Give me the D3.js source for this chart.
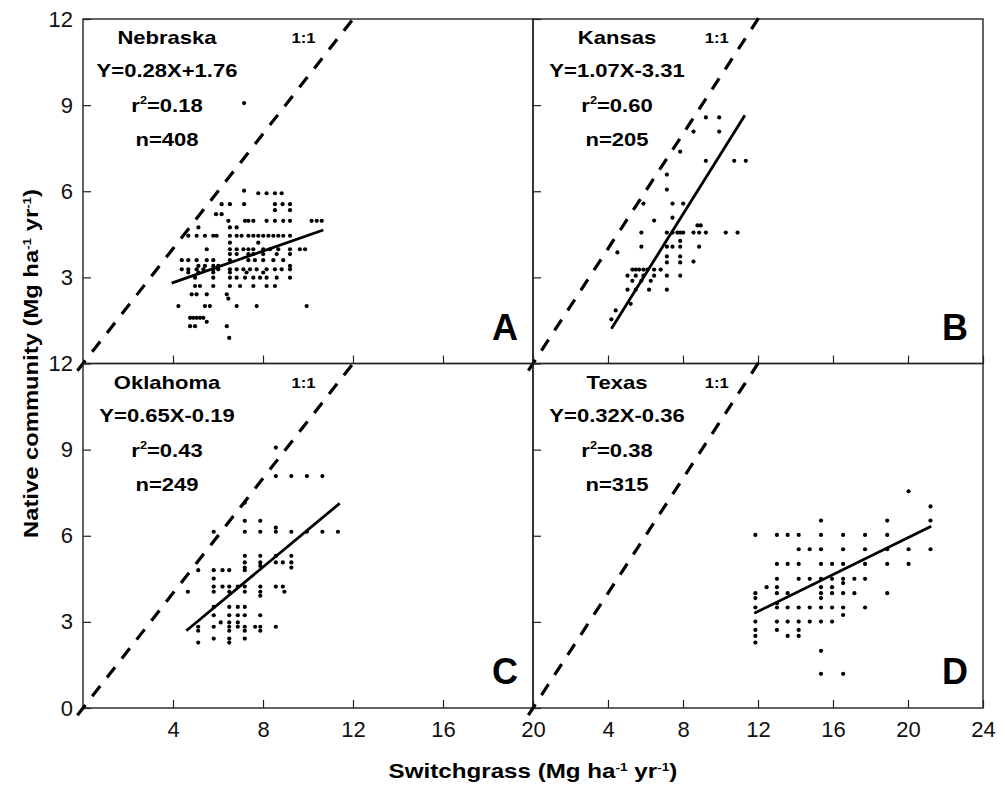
<!DOCTYPE html>
<html>
<head>
<meta charset="utf-8">
<script src="https://cdn.jsdelivr.net/npm/d3@7"></script>
<style>
  body { margin: 0; background: #fff; }
  text { font-family: Arial, "Liberation Sans", sans-serif; }
</style>
</head>
<body>
<svg id="chart"></svg>
<script>
// tick values
const xTicksLeft = [4, 8, 12, 16, 20];
const xTicksRight = [4, 8, 12, 16, 20, 24];
const yTicksTop = [3, 6, 9, 12];
const yTicksBottom = [0, 3, 6, 9, 12];
const oneToOne = [-0.25, 12.15];

// Nebraska (A): [switchgrass, native]
const nebraska = [
  [7.16, 9.07], [7.16, 6.02],
  [7.79, 5.93], [8.16, 5.93], [8.53, 5.93], [8.83, 5.93],
  [6.16, 5.55], [6.53, 5.55], [7.16, 5.55], [8.53, 5.55], [8.87, 5.55], [9.2, 5.55],
  [8.53, 5.34], [9.2, 5.34], [5.91, 5.2], [6.16, 5.2],
  [6.46, 4.97], [7.2, 4.97], [7.35, 4.97], [7.57, 4.97], [8.16, 4.97], [8.53, 4.97], [8.9, 4.97], [9.2, 4.97], [10.16, 4.97], [10.39, 4.97], [10.61, 4.97],
  [5.13, 4.74], [6.53, 4.74], [6.83, 4.74],
  [4.68, 4.45], [5.05, 4.45], [5.42, 4.45], [5.79, 4.45], [5.94, 4.45], [6.53, 4.45], [6.83, 4.45], [7.05, 4.45], [7.35, 4.45], [7.57, 4.45], [7.79, 4.45], [8.01, 4.45], [8.24, 4.45], [8.46, 4.45], [8.68, 4.45], [8.9, 4.45], [9.2, 4.45],
  [6.53, 4.21], [7.79, 4.21],
  [5.5, 3.98], [6.53, 3.98], [6.83, 3.98], [7.13, 3.98], [7.35, 3.98], [7.57, 3.98], [8.01, 3.98], [8.31, 3.98], [8.68, 3.98], [9.2, 3.98], [9.64, 3.98], [9.87, 3.98],
  [6.53, 3.81], [6.83, 3.81], [7.35, 3.81], [7.57, 3.81], [8.01, 3.81], [8.61, 3.81], [9.2, 3.81],
  [4.39, 3.6], [4.68, 3.6], [5.05, 3.6], [5.5, 3.6], [5.79, 3.6], [6.53, 3.6], [7.35, 3.6], [7.64, 3.6], [8.01, 3.6], [8.46, 3.6], [8.9, 3.6],
  [5.13, 3.4], [5.42, 3.4], [5.79, 3.4], [6.01, 3.4], [9.2, 3.4],
  [4.39, 3.28], [4.68, 3.28], [5.05, 3.28], [5.35, 3.28], [5.79, 3.28], [6.01, 3.28], [6.53, 3.28], [6.83, 3.28], [7.13, 3.28], [7.42, 3.28], [7.72, 3.28], [8.16, 3.28], [8.53, 3.28], [8.83, 3.28], [9.2, 3.28],
  [4.68, 3.17], [5.13, 3.17], [5.79, 3.17], [6.53, 3.17], [7.27, 3.17], [8.01, 3.17],
  [4.98, 2.99], [5.79, 2.99], [6.53, 2.99], [6.83, 2.99], [7.2, 2.99], [7.57, 2.99], [7.87, 2.99], [8.16, 2.99], [8.61, 2.99], [9.2, 2.99],
  [4.98, 2.7], [5.2, 2.7], [5.79, 2.7], [6.53, 2.7], [6.98, 2.7], [7.57, 2.7], [8.16, 2.7], [8.53, 2.7],
  [4.83, 2.41], [5.05, 2.41], [5.5, 2.41], [6.39, 2.41], [6.46, 2.26],
  [4.24, 2.0], [5.42, 2.0], [5.64, 2.0], [6.83, 2.0], [7.72, 2.0], [9.94, 2.0],
  [4.76, 1.59], [4.9, 1.59], [5.05, 1.59], [5.2, 1.59], [5.35, 1.59], [5.5, 1.45],
  [4.76, 1.3], [4.98, 1.3], [6.39, 1.3], [6.5, 0.89]
];

// Kansas (B)
const kansas = [
  [9.22, 8.57], [9.93, 8.57], [8.56, 8.08], [9.93, 8.08], [7.85, 7.38],
  [9.22, 7.06], [10.73, 7.06], [11.35, 7.06], [7.14, 6.58], [7.14, 6.06],
  [5.89, 5.57], [7.44, 5.57], [8.01, 5.57], [7.44, 5.08], [6.46, 4.98], [8.77, 4.81], [8.95, 4.81],
  [5.78, 4.56], [7.14, 4.56], [7.44, 4.56], [7.7, 4.56], [7.85, 4.56], [8.01, 4.56], [8.56, 4.56], [8.86, 4.56], [9.22, 4.56], [10.28, 4.56], [10.91, 4.56],
  [7.85, 4.27], [5.78, 4.07], [7.14, 4.07], [7.44, 4.07], [7.85, 4.07], [8.86, 4.07],
  [4.5, 3.87], [7.14, 3.73], [7.85, 3.73], [8.56, 3.55], [7.14, 3.52], [7.85, 3.52],
  [5.3, 3.27], [5.48, 3.27], [5.66, 3.27], [5.89, 3.27], [6.1, 3.27], [6.46, 3.27], [6.81, 3.27],
  [5.04, 3.06], [5.48, 3.06], [5.89, 3.06], [6.46, 3.06], [7.14, 3.06], [7.85, 3.06],
  [5.3, 2.88], [5.78, 2.88], [6.28, 2.88],
  [5.04, 2.57], [5.48, 2.57], [6.19, 2.57], [7.14, 2.57],
  [5.21, 2.08], [4.41, 1.85], [4.18, 1.54]
];

// Oklahoma (C)
const oklahoma = [
  [8.57, 9.07], [8.57, 8.08], [9.26, 8.08], [9.95, 8.08], [10.64, 8.08], [7.19, 7.15],
  [7.19, 6.52], [7.88, 6.52], [8.57, 6.28],
  [5.81, 6.14], [7.19, 6.14], [7.88, 6.14], [8.57, 6.14], [9.26, 6.14], [9.95, 6.14], [10.64, 6.14], [11.33, 6.14],
  [7.19, 5.3], [7.88, 5.3], [8.57, 5.3], [9.26, 5.3],
  [7.19, 5.07], [7.88, 5.07], [8.57, 5.07], [8.88, 5.07], [9.26, 5.07], [7.88, 4.95], [7.19, 4.89], [9.26, 4.89],
  [5.12, 4.8], [5.81, 4.8], [6.2, 4.8], [6.5, 4.8], [7.19, 4.8], [5.81, 4.51],
  [5.81, 4.23], [6.2, 4.23], [6.5, 4.23], [6.88, 4.23], [7.19, 4.23], [7.88, 4.23], [8.57, 4.23], [8.88, 4.23],
  [4.66, 4.05], [5.81, 4.05], [6.5, 4.05], [7.19, 4.05], [7.88, 4.05], [8.95, 4.05], [7.88, 3.91],
  [5.81, 3.52], [6.5, 3.52], [6.88, 3.52], [7.19, 3.52],
  [5.81, 3.23], [6.5, 3.23], [6.88, 3.23], [7.19, 3.23], [7.88, 3.23],
  [6.12, 2.98], [6.5, 2.98], [6.88, 2.98],
  [5.12, 2.83], [5.81, 2.83], [6.5, 2.83], [6.88, 2.83], [7.19, 2.83], [7.65, 2.83], [7.88, 2.83], [8.57, 2.83],
  [5.12, 2.69], [6.5, 2.69], [7.19, 2.69], [7.88, 2.69],
  [5.81, 2.42], [6.5, 2.42], [7.19, 2.42], [5.12, 2.28], [6.5, 2.28]
];

// Texas (D)
const texas = [
  [20.03, 7.55], [21.2, 7.02], [15.36, 6.53], [18.89, 6.53], [21.2, 6.53],
  [11.86, 6.03], [13.01, 6.03], [13.58, 6.03], [14.17, 6.03], [15.36, 6.03], [16.54, 6.03], [17.71, 6.03], [18.89, 6.03],
  [14.17, 5.53], [14.76, 5.53], [15.36, 5.53], [16.54, 5.53], [17.71, 5.53], [18.89, 5.53], [20.03, 5.53], [21.2, 5.53],
  [13.01, 5.02], [13.58, 5.02], [14.17, 5.02], [15.36, 5.02], [15.95, 5.02], [16.54, 5.02], [17.71, 5.02], [18.89, 5.02], [20.03, 5.02],
  [13.01, 4.5], [14.17, 4.5], [14.76, 4.5], [15.36, 4.5], [15.95, 4.5], [16.54, 4.5], [17.14, 4.5], [17.71, 4.5], [16.54, 4.35],
  [12.46, 4.21], [13.01, 4.21], [15.36, 4.21], [15.95, 4.21],
  [11.86, 4.0], [13.01, 4.0], [13.58, 4.0], [15.36, 4.0], [15.95, 4.0], [16.54, 4.0], [17.14, 4.0], [18.89, 4.0],
  [11.86, 3.83], [15.36, 3.83], [13.01, 3.65],
  [11.86, 3.5], [13.01, 3.5], [13.58, 3.5], [14.17, 3.5], [14.76, 3.5], [15.36, 3.5], [15.95, 3.5], [16.54, 3.5], [17.71, 3.5],
  [16.54, 3.24],
  [11.86, 3.01], [13.01, 3.01], [13.58, 3.01], [14.17, 3.01], [14.76, 3.01], [15.36, 3.01], [15.95, 3.01],
  [11.86, 2.72], [13.01, 2.72], [14.17, 2.72], [11.86, 2.51], [13.58, 2.51], [14.17, 2.51], [11.86, 2.28],
  [15.36, 1.99], [15.36, 1.19], [16.54, 1.19]
];

// fitted lines as drawn: [x, y] end points
const nebraskaFit = [[3.94, 2.8], [10.68, 4.65]];
const kansasFit = [[4.18, 1.21], [11.3, 8.65]];
const oklahomaFit = [[4.59, 2.69], [11.41, 7.13]];
const texasFit = [[11.8, 3.3], [21.24, 6.33]];

const names = ["Nebraska", "Kansas", "Oklahoma", "Texas"];
const equations = ["Y=0.28X+1.76", "Y=1.07X-3.31", "Y=0.65X-0.19", "Y=0.32X-0.36"];
const r2 = ["0.18", "0.60", "0.43", "0.38"];
const counts = ["408", "205", "249", "315"];
const letters = ["A", "B", "C", "D"];
const xMax = [20, 24, 20, 24];

const points = [nebraska, kansas, oklahoma, texas];
const fits = [nebraskaFit, kansasFit, oklahomaFit, texasFit];

const width = 1005, height = 787;
const margin = { left: 83, top: 19 };
const panelW = 450, panelH = 344.5;

const svg = d3.select("#chart").attr("width", width).attr("height", height);

letters.forEach((letter, i) => {
  const col = i % 2, row = Math.floor(i / 2);
  const g = svg.append("g")
    .attr("transform", `translate(${margin.left + col * panelW}, ${margin.top + row * panelH})`);

  const x = d3.scaleLinear().domain([0, xMax[i]]).range([0, panelW]);
  const y = d3.scaleLinear().domain([0, 12]).range([panelH, 0]);

  // ticks pointing inward, labels only on outer axes
  const xAxis = d3.axisBottom(x)
    .tickValues(col === 0 ? xTicksLeft : xTicksRight)
    .tickSize(-8).tickPadding(13)
    .tickFormat(row === 1 ? d3.format("d") : () => "");
  const yAxis = d3.axisLeft(y)
    .tickValues(row === 0 ? yTicksTop : yTicksBottom)
    .tickSize(-8).tickPadding(10)
    .tickFormat(col === 0 ? d3.format("d") : () => "");

  g.append("g").attr("class", "x-axis")
    .attr("transform", `translate(0, ${panelH})`)
    .call(xAxis);
  g.append("g").attr("class", "y-axis").call(yAxis);

  g.selectAll(".domain").remove();
  g.selectAll(".tick line").attr("stroke", "#222").attr("stroke-width", 1.2);
  g.selectAll(".tick text")
    .attr("font-size", 22).attr("fill", "#111")
    .style("font-family", "Arial, 'Liberation Sans', sans-serif");

  // frame
  g.append("rect")
    .attr("width", panelW).attr("height", panelH)
    .attr("fill", "none").attr("stroke", "#222").attr("stroke-width", 1.4);

  // dots
  g.selectAll("circle").data(points[i]).join("circle")
    .attr("cx", d => x(d[0])).attr("cy", d => y(d[1]))
    .attr("r", 2.1).attr("fill", "#000");

  // 1:1 line
  g.append("path")
    .attr("d", d3.line().x(d => x(d)).y(d => y(d))(oneToOne))
    .attr("fill", "none").attr("stroke", "#000")
    .attr("stroke-width", 3.2).attr("stroke-dasharray", "13,11");

  // fitted line
  g.append("path")
    .attr("d", d3.line().x(d => x(d[0])).y(d => y(d[1]))(fits[i]))
    .attr("fill", "none").attr("stroke", "#000").attr("stroke-width", 2.8);

  // annotations
  const note = (yy, size) => g.append("text")
    .attr("transform", `translate(84, ${yy}) scale(1.16, 1)`)
    .attr("text-anchor", "middle").attr("font-weight", "bold")
    .attr("font-size", size).attr("fill", "#000");

  note(25, 19).text(names[i]);
  note(58, 19).text(equations[i]);
  const rt = note(93, 19);
  rt.append("tspan").text("r");
  rt.append("tspan").attr("font-size", 11).attr("dy", -8).text("2");
  rt.append("tspan").attr("dy", 8).text("=" + r2[i]);
  note(127, 19).text("n=" + counts[i]);

  g.append("text")
    .attr("transform", `translate(${x(9.8)}, 24) scale(1.15, 1)`)
    .attr("text-anchor", "middle").attr("font-weight", "bold")
    .attr("font-size", 14.5).text("1:1");

  g.append("text")
    .attr("x", panelW - 15).attr("y", panelH - 24)
    .attr("text-anchor", "end").attr("font-weight", "bold")
    .attr("font-size", 36).text(letter);
});

// axis titles
const yTitle = svg.append("text")
  .attr("transform", `translate(38, ${margin.top + panelH}) rotate(-90) scale(1.22, 1)`)
  .attr("text-anchor", "middle").attr("font-weight", "bold").attr("font-size", 19.5);
yTitle.append("tspan").text("Native community (Mg ha");
yTitle.append("tspan").attr("font-size", 11).attr("dy", -7).text("-1");
yTitle.append("tspan").attr("dy", 7).text(" yr");
yTitle.append("tspan").attr("font-size", 11).attr("dy", -7).text("-1");
yTitle.append("tspan").attr("dy", 7).text(")");

const xTitle = svg.append("text")
  .attr("transform", `translate(${margin.left + panelW}, 778) scale(1.24, 1)`)
  .attr("text-anchor", "middle").attr("font-weight", "bold").attr("font-size", 19.5);
xTitle.append("tspan").text("Switchgrass (Mg ha");
xTitle.append("tspan").attr("font-size", 11).attr("dy", -7).text("-1");
xTitle.append("tspan").attr("dy", 7).text(" yr");
xTitle.append("tspan").attr("font-size", 11).attr("dy", -7).text("-1");
xTitle.append("tspan").attr("dy", 7).text(")");
</script>
</body>
</html>
